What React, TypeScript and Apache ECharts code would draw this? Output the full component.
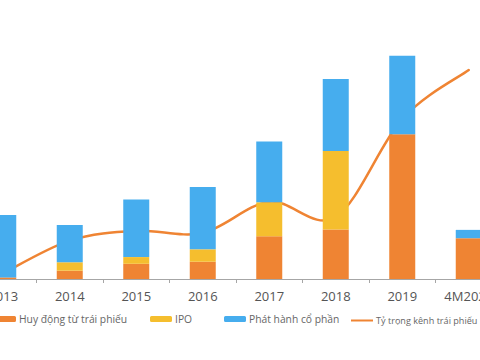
import React, { useEffect, useRef } from "react";
import * as echarts from "echarts";

const categories = ["2013", "2014", "2015", "2016", "2017", "2018", "2019", "4M2020"];
const bondValues = [2, 10.4, 19, 21.6, 53.4, 62, 181, 51];
const ipoValues = [0, 10.5, 8.4, 15.5, 42.5, 98, 0, 0];
const equityValues = [78, 46.6, 72, 78, 76, 90, 98, 10.4];
const bondSharePct = [2.4, 16, 20.1, 19.2, 32.2, 25.8, 66.7, 87.1];

const seriesNames = ["Huy động từ trái phiếu", "IPO", "Phát hành cổ phần", "Tỷ trọng kênh trái phiếu"];

const ORANGE = "#EF8433";
const YELLOW = "#F5BE2E";
const BLUE = "#46ADEE";

export default function App() {
  const ref = useRef<HTMLDivElement>(null);
  useEffect(() => {
    if (!ref.current) return;
    const chart = echarts.init(ref.current, null, { renderer: "svg" });
    const legendText = { fontFamily: "Open Sans", fontSize: 10.3, color: "#666", padding: [0, 0, 0, -2] };
    const mkLegend = (name: any, left: number, extra: any = {}) => ({
      data: [name],
      left,
      top: 314,
      itemWidth: 22,
      itemHeight: 6,
      padding: 0,
      textStyle: legendText,
      ...extra,
    });
    const n = bondSharePct.length;
    chart.setOption({
      animation: false,
      grid: { left: 0, right: 0, top: 39, bottom: 81, containLabel: false },
      legend: [
        mkLegend(seriesNames[0], 24),
        mkLegend(seriesNames[1], 180),
        mkLegend(seriesNames[2], 254),
        mkLegend({ name: seriesNames[3], icon: "rect" }, 381, {
          itemHeight: 2,
          top: 316,
          textStyle: { ...legendText, fontSize: 9.1 },
        }),
      ],
      xAxis: {
        type: "category",
        data: categories,
        axisLine: { lineStyle: { color: "#A6A6A6", width: 1 } },
        axisTick: { show: true, length: 4, lineStyle: { color: "#A6A6A6" } },
        axisLabel: { fontFamily: "Open Sans", fontSize: 13, color: "#555", margin: 10 },
      },
      yAxis: [
        { type: "value", min: 0, max: 300, show: false, splitLine: { show: false } },
        { type: "value", min: 0, max: 100, show: false, splitLine: { show: false } },
      ],
      series: [
        { name: seriesNames[0], type: "bar", stack: "a", barWidth: 26, data: bondValues, itemStyle: { color: ORANGE } },
        { name: seriesNames[1], type: "bar", stack: "a", barWidth: 26, data: ipoValues, itemStyle: { color: YELLOW } },
        { name: seriesNames[2], type: "bar", stack: "a", barWidth: 26, data: equityValues, itemStyle: { color: BLUE } },
        {
          name: seriesNames[3],
          type: "custom",
          yAxisIndex: 1,
          clip: false,
          itemStyle: { color: ORANGE },
          data: bondSharePct.map((v, i) => [i, v]),
          renderItem: (params: any, api: any) => {
            const i = params.dataIndex;
            if (i >= n - 1) return { type: "group", children: [] };
            const P = (k: number) => {
              const kk = Math.max(0, Math.min(n - 1, k));
              return api.coord([kk, bondSharePct[kk]]);
            };
            const p0 = P(i - 1), p1 = P(i), p2 = P(i + 1), p3 = P(i + 2);
            return {
              type: "bezierCurve",
              shape: {
                x1: p1[0], y1: p1[1],
                x2: p2[0], y2: p2[1],
                cpx1: p1[0] + (p2[0] - p0[0]) / 6,
                cpy1: p1[1] + (p2[1] - p0[1]) / 6,
                cpx2: p2[0] - (p3[0] - p1[0]) / 6,
                cpy2: p2[1] - (p3[1] - p1[1]) / 6,
              },
              style: { stroke: ORANGE, lineWidth: 2.5, fill: null, lineCap: "round" },
            };
          },
        },
      ],
    });
    return () => chart.dispose();
  }, []);
  return (
    <div style={{ position: "fixed", left: 0, top: 0, width: 480, height: 360, overflow: "hidden", background: "#fff" }}>
      <div ref={ref} style={{ position: "absolute", left: -30, top: 0, width: 532, height: 360 }} />
    </div>
  );
}
